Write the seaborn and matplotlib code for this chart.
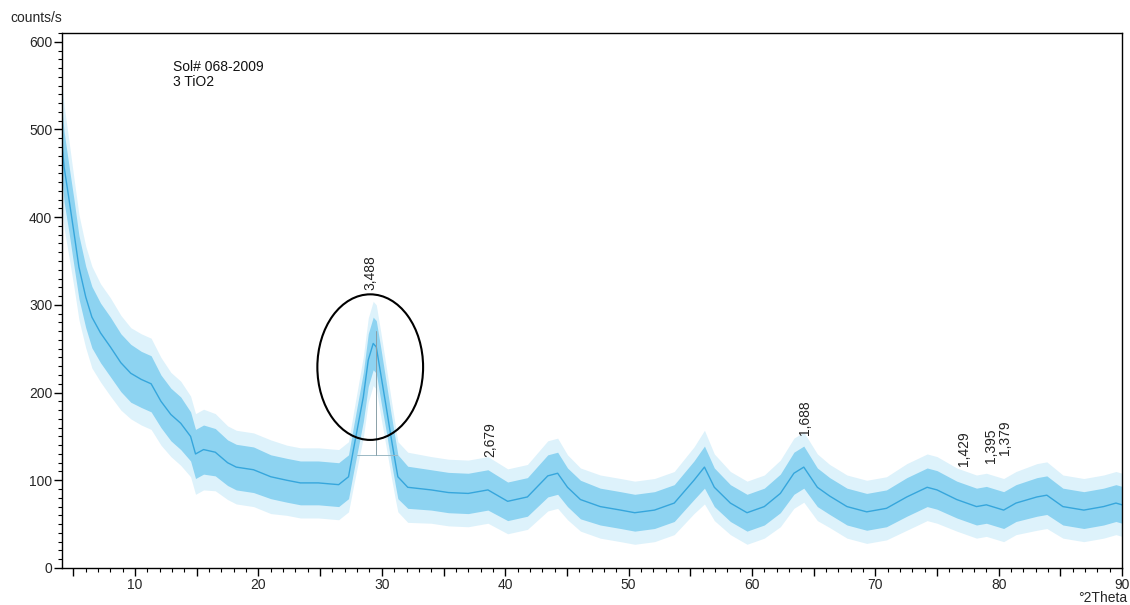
import matplotlib
matplotlib.use("Agg")
import matplotlib.pyplot as plt
from matplotlib.patches import Ellipse
from matplotlib.ticker import MultipleLocator, FuncFormatter
import numpy as np
import pandas as pd
import seaborn as sns

# ---- data ----
theta = [4.1, 4.25, 4.65, 5.05, 5.45, 6.0, 6.5, 7.2, 8.0, 8.85, 9.65, 10.5, 11.3,
         12.1, 12.9, 13.7, 14.5, 14.9, 15.55, 16.5, 17.5, 18.2, 19.6, 21.0, 22.3,
         23.4, 24.85, 26.5, 27.3, 27.7, 28.1, 28.5, 28.9, 29.3, 29.55, 29.95,
         30.35, 30.75, 31.1, 31.3, 32.1, 34.0, 35.4, 37.0, 38.6, 40.2, 41.8,
         43.45, 44.25, 45.05, 46.1, 47.7, 49.35, 50.5, 52.1, 53.7, 55.3, 56.15,
         56.95, 58.25, 59.6, 61.0, 62.3, 63.4, 64.2, 65.3, 66.3, 67.7, 69.3,
         70.9, 72.55, 74.2, 75.0, 76.6, 78.2, 79.0, 80.4, 81.4, 83.1, 83.9,
         85.2, 86.9, 88.5, 89.5, 90.0]
counts = [480, 457, 420, 382, 343, 309, 286, 268, 252, 234, 222, 215, 210,
          190, 175, 165, 150, 130, 135, 132, 120, 115, 112, 104, 100,
          97, 97, 95, 104, 135, 165, 195, 237, 256, 252, 218,
          184, 149, 120, 104, 92, 89, 86, 85, 89, 76, 81,
          105, 108, 92, 78, 70, 66, 63, 66, 74, 100, 115,
          92, 74, 63, 70, 85, 108, 115, 92, 82, 70, 64,
          68, 81, 92, 89, 78, 70, 72, 66, 74, 81, 83,
          70, 66, 70, 74, 72]
# half-width of the dense noise core and of the spike envelope
core_hw = [40, 40, 38, 38, 36, 35, 35, 34, 34, 33, 33, 32, 32,
           30, 30, 30, 28, 28, 28, 27, 26, 26, 26, 25, 25,
           25, 25, 25, 25, 26, 27, 28, 30, 30, 30, 30,
           28, 27, 26, 25, 24, 23, 23, 23, 23, 22, 22,
           24, 24, 22, 22, 21, 21, 21, 21, 21, 22, 24,
           22, 21, 21, 21, 22, 24, 24, 22, 21, 21, 21,
           21, 22, 22, 22, 21, 21, 21, 21, 21, 22, 22,
           21, 21, 21, 21, 21]
spike_hw = [70, 70, 66, 62, 60, 58, 58, 56, 56, 54, 52, 52, 52,
            50, 48, 48, 46, 46, 46, 44, 42, 42, 42, 42, 40,
            40, 40, 40, 40, 42, 44, 46, 48, 48, 48, 48,
            46, 44, 42, 40, 40, 38, 38, 38, 38, 37, 37,
            40, 40, 37, 36, 36, 36, 36, 36, 36, 38, 42,
            38, 36, 36, 36, 38, 40, 40, 38, 36, 36, 36,
            36, 38, 38, 38, 36, 36, 36, 36, 36, 38, 38,
            36, 36, 36, 36, 36]

peak_theta = [29.05, 38.8, 64.3, 77.2, 79.4, 80.5]
peak_label = ["3,488", "2,679", "1,688", "1,429", "1,395", "1,379"]
label_base = [317, 127, 152, 116, 120, 129]

sample_text = "Sol# 068-2009\n3 TiO2"

df = pd.DataFrame({"theta": theta, "counts": counts,
                   "core": core_hw, "spike": spike_hw})

sns.set_theme(style="white")
plt.rcParams["font.family"] = ["Liberation Sans", "DejaVu Sans"]

fig = plt.figure(figsize=(11.3, 6.05), dpi=100)
ax = fig.add_axes([0.0549, 0.0612, 0.9381, 0.8843])

ax.fill_between(df["theta"], df["counts"] - df["spike"], df["counts"] + df["spike"],
                color="#9fdaf4", alpha=0.35, lw=0)
ax.fill_between(df["theta"], df["counts"] - df["core"], df["counts"] + df["core"],
                color="#5cc0ec", alpha=0.62, lw=0)
sns.lineplot(data=df, x="theta", y="counts", ax=ax, color="#36a6dc", lw=1.0)

# peak marker lines
ax.plot([28.0, 31.2], [129, 129], color="#9ab8c4", lw=0.7)
ax.plot([29.55, 29.55], [129, 270], color="#8aa0a8", lw=0.7)

# circle around the main peak
ax.add_patch(Ellipse((29.06, 229), 8.57, 166, fill=False, ec="black", lw=1.5, zorder=5))

for t, lab, yb in zip(peak_theta, peak_label, label_base):
    ax.text(t, yb, lab, rotation=90, ha="center", va="bottom", fontsize=10, color="#222222")

ax.text(13.1, 579, sample_text, fontsize=10, va="top", ha="left", color="#111111",
        linespacing=1.1)

ax.set_xlim(4.08, 90)
ax.set_ylim(0, 610)
ax.set_xlabel("")
ax.set_ylabel("")

ax.xaxis.set_major_locator(MultipleLocator(5))
ax.xaxis.set_minor_locator(MultipleLocator(1))
ax.xaxis.set_major_formatter(FuncFormatter(lambda v, p: f"{int(v)}" if v % 10 == 0 else ""))
ax.yaxis.set_major_locator(MultipleLocator(100))
ax.yaxis.set_minor_locator(MultipleLocator(10))
ax.tick_params(axis="both", which="major", direction="out", length=6, width=1,
               color="black", labelsize=10, pad=1, bottom=True, left=True)
ax.tick_params(axis="both", which="minor", direction="out", length=3, width=0.8,
               color="black", bottom=True, left=True)
for s in ax.spines.values():
    s.set_color("black")
    s.set_linewidth(1.0)

fig.text(10 / 1130, 1 - 18 / 605, "counts/s", fontsize=10, ha="left", va="center")
fig.text(1127 / 1130, 1 - 598 / 605, "°2Theta", fontsize=10, ha="right", va="center")

fig.savefig("out.png", dpi=100)
